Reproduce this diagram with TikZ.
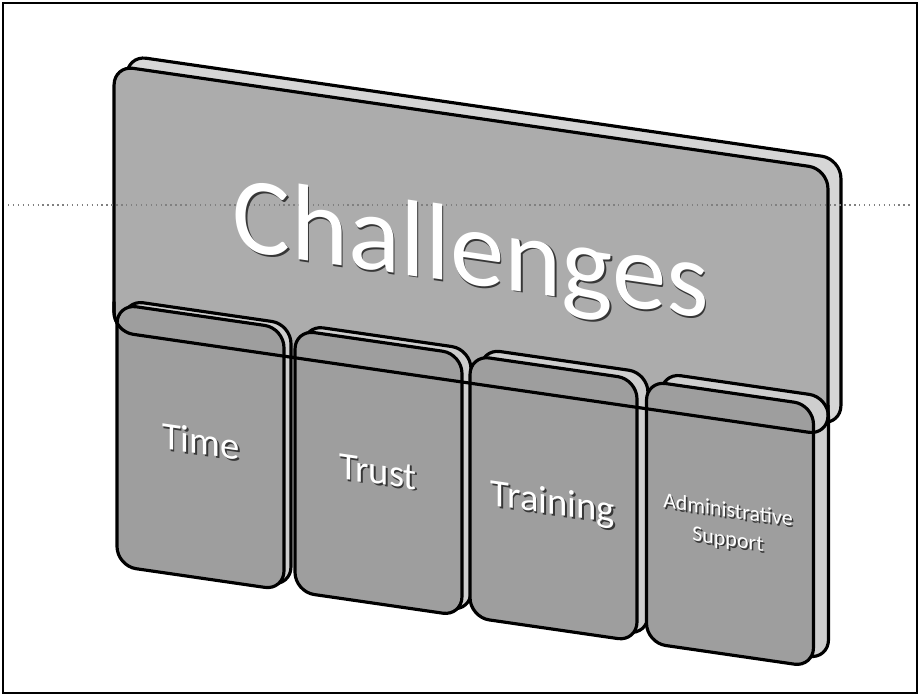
\documentclass[tikz,border=0pt]{standalone}
\usepackage{fontspec}
\setmainfont{Carlito}
\usepackage{tikz}
\usetikzlibrary{positioning}
\usepackage{xcolor}
\definecolor{panelFace}{RGB}{172,172,172}
\definecolor{panelSide}{RGB}{214,214,214}
\definecolor{cardFace}{RGB}{158,158,158}
\definecolor{cardSide}{RGB}{206,206,206}
\definecolor{reliefShade}{RGB}{55,55,55}

% white text with a dark relief under it
\newcommand{\relief}[1]{\leavevmode\rlap{\kern0.9pt\raisebox{-0.9pt}{\color{reliefShade}#1}}#1}

\tikzset{
  edgeline/.style={draw=black, line width=1.8pt},
  face/.style={edgeline, rounded corners=11pt, inner sep=0pt, transform shape},
  panelbox/.style={face, fill=panelFace, minimum width=14.28cm, minimum height=5.32cm},
  panelslab/.style={panelbox, fill=panelSide},
  cardbox/.style={face, fill=cardFace, minimum width=3.34cm, minimum height=5.24cm},
  cardslab/.style={cardbox, fill=cardSide},
  bigtitle/.style={font=\fontsize{62}{62}\selectfont, text=white, inner sep=0pt, transform shape},
  cardtitle/.style={font=\fontsize{22}{22}\selectfont, text=white, inner sep=0pt, align=center, transform shape},
  smalltitle/.style={cardtitle, font=\fontsize{12.5}{16.5}\selectfont}
}

\begin{document}
\begin{tikzpicture}[x=0.02cm, y=-0.02cm]
  \useasboundingbox (0,0) rectangle (920,696);
  % Frame
  \draw[line width=1.6pt] (3,3) rectangle (917,693);

  % Back panel
  \begin{scope}[yslant=-0.145]
    \node[panelslab] (panel-slab) at (484,170) {};
    \node[panelbox] (panel) at (471,182) {};
  \end{scope}

  % Guide line
  \draw[gray, dotted, line width=0.8pt] (8,205) -- (912,205);

  \begin{scope}[yslant=-0.145]
    \node[bigtitle, anchor=base] (title) at (471,216) {\relief{Challenges}};

    % Cards
    \foreach \n/\cx/\dx/\dy in {time/200.5/7/5, trust/378.5/9/6, training/553.5/11/8, admin/730/15/10} {
      \node[cardslab] (\n-slab) at (\cx+\dx, 418-\dy) {};
      \node[cardbox] (\n) at (\cx, 418) {};
    }

    % Bottom edge of the panel across the cards
    \draw[edgeline, rounded corners=11pt] (114,285) -- (114,315) -- (828,315) -- (828,285);

    % Labels
    \node[cardtitle] (time-lbl) at (201,413) {\relief{Time}};
    \node[cardtitle] (trust-lbl) at (378,418) {\relief{Trust}};
    \node[cardtitle] (training-lbl) at (553,425) {\relief{Training}};
    \node[smalltitle] (admin-lbl) at (728,421) {\relief{Administrative}\\\relief{Support}};
  \end{scope}
\end{tikzpicture}
\end{document}
